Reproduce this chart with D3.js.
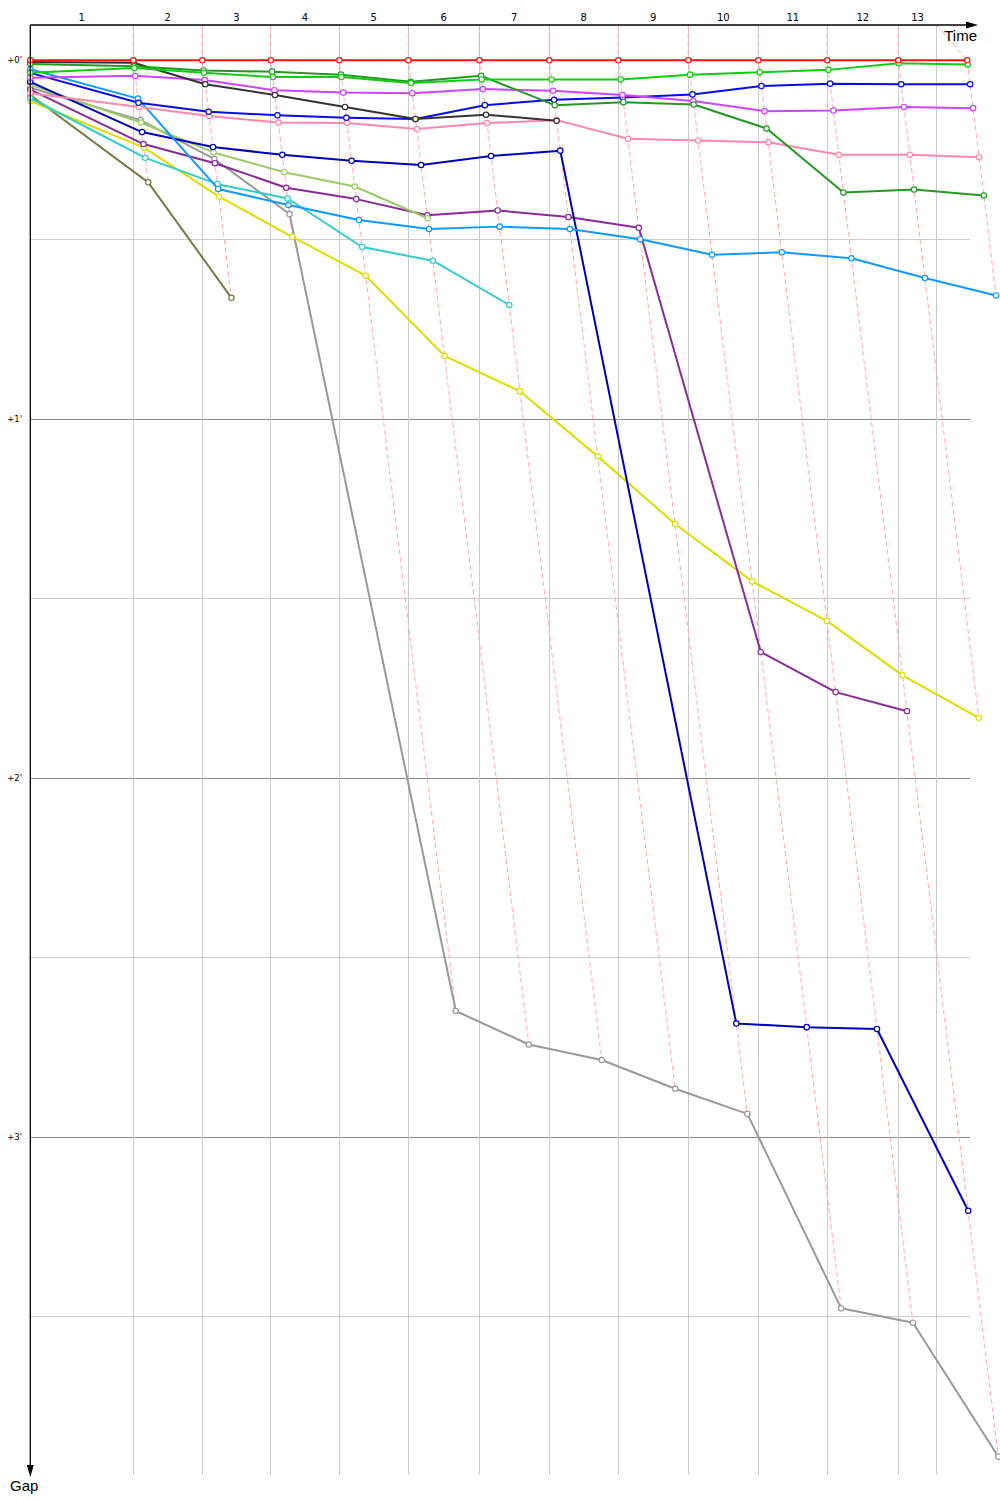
<!DOCTYPE html>
<html><head><meta charset="utf-8">
<script src="https://cdn.jsdelivr.net/npm/d3@7"></script>
<style>body{margin:0;background:#fff}svg{display:block}</style>
</head><body><svg id="c" width="1000" height="1500"></svg>
<script>
// ---- data ----
const lapNumbers = [1,2,3,4,5,6,7,8,9,10,11,12,13];
// leader's elapsed time (s) at end of each lap (index 0 = start)
const leaderTimes = [0, 140.5, 234.7, 328.0, 421.6, 515.7, 612.6, 708.0, 802.2, 897.7, 993.2, 1087.3, 1184.2, 1278.3];
const timeAxisEnd = 1237;           // end of time axis grid (s)
const gapTicks = [0, 30, 60, 90, 120, 150, 180, 210];
const gapLabels = ["+0'", "+1'", "+2'", "+3'"];

// gaps to leader (s), per completed lap, index 0 = start
const gapsRed        = [0,0,0,0,0,0,0,0,0,0,0,0,0,0];
const gapsGreen      = [2.1, 1.3, 2.1, 2.8, 2.8, 3.8, 3.2, 3.2, 3.2, 2.4, 2.0, 1.6, 0.5, 0.7];
const gapsDarkGreen  = [0.6, 1.0, 1.7, 1.9, 2.4, 3.6, 2.6, 7.5, 7.0, 7.4, 11.4, 22.1, 21.6, 22.6];
const gapsBlack      = [0.3, 0.4, 4.0, 5.8, 7.8, 9.8, 9.1, 10.1];
const gapsViolet     = [2.9, 2.6, 3.3, 5.0, 5.4, 5.5, 4.8, 5.1, 5.8, 6.8, 8.5, 8.4, 7.8, 8.0];
const gapsBlue       = [2.1, 7.1, 8.6, 9.2, 9.6, 9.8, 7.5, 6.6, 6.2, 5.7, 4.3, 3.9, 4.0, 4.0];
const gapsPink       = [5.5, 7.8, 9.3, 10.4, 10.5, 11.5, 10.5, 10.0, 13.1, 13.4, 13.7, 15.8, 15.8, 16.2];
const gapsSkyBlue    = [1.5, 6.4, 21.5, 24.2, 26.7, 28.2, 27.8, 28.2, 29.9, 32.5, 32.1, 33.1, 36.4, 39.3];
const gapsNavy       = [3.6, 12.0, 14.5, 15.8, 16.8, 17.5, 16.0, 15.1, 161.0, 161.6, 161.9, 192.3];
const gapsLightGreen = [4.1, 10.4, 15.4, 18.7, 21.1, 26.4];
const gapsPurple     = [4.9, 14.0, 17.2, 21.3, 23.2, 25.9, 25.1, 26.2, 28.0, 98.9, 105.6, 108.8];
const gapsCyan       = [6.3, 16.3, 20.7, 23.1, 31.2, 33.5, 40.9];
const gapsYellow     = [6.8, 14.6, 22.8, 29.5, 36.0, 49.4, 55.3, 66.2, 77.5, 87.1, 93.7, 102.8, 109.9];
const gapsGray       = [4.6, 10.0, 16.5, 25.7, 158.9, 164.5, 167.1, 171.9, 176.1, 208.6, 211.0, 233.4];
const gapsOlive      = [5.8, 20.4, 39.7];

// drawing order: bottom first, leader last
const seriesGaps   = [gapsOlive, gapsGray, gapsYellow, gapsCyan, gapsPurple, gapsLightGreen, gapsNavy, gapsSkyBlue, gapsPink, gapsBlue, gapsViolet, gapsBlack, gapsDarkGreen, gapsGreen, gapsRed];
const seriesColors = ["#7a7a44", "#999999", "#dddd00", "#33cccc", "#8a2a9a", "#99cc66", "#0000bb", "#1199ff", "#ff88aa", "#0a0aee", "#cc44ff", "#333333", "#229922", "#11cc11", "#ff1111"];

// ---- layout ----
const svg = d3.select("#c");
const x = d3.scaleLinear().domain([0, 1323]).range([30.3, 1000]);
const y = d3.scaleLinear().domain([0, 240]).range([60.3, 1496.2]);
const topY = 25, bottomY = 1477, gridBottom = 1475, hGridEnd = x(1282);

const series = seriesGaps.map((g, i) => ({
  color: seriesColors[i],
  pts: g.map((v, k) => ({ lap: k, gap: v, t: k === 0 ? 0 : leaderTimes[k] + v }))
}));

// horizontal grid
svg.append("g").selectAll("line").data(gapTicks).join("line")
  .attr("x1", x(0)).attr("x2", hGridEnd)
  .attr("y1", d => y(d)).attr("y2", d => y(d))
  .attr("stroke", d => d % 60 === 0 ? "#888" : "#ccc").attr("stroke-width", 1)
  .attr("shape-rendering", "crispEdges");

// vertical grid
const gridTimes = leaderTimes.slice(1).map(t => Math.min(t, timeAxisEnd));
svg.append("g").selectAll("line").data(gridTimes).join("line")
  .attr("x1", d => x(d)).attr("x2", d => x(d))
  .attr("y1", topY).attr("y2", gridBottom)
  .attr("stroke", "#ccc").attr("stroke-width", 1)
  .attr("shape-rendering", "crispEdges");

// lap labels
const bounds = [0, ...gridTimes];
svg.append("g").selectAll("text").data(lapNumbers).join("text")
  .attr("x", (d, i) => (x(bounds[i]) + x(bounds[i + 1])) / 2)
  .attr("y", 21).attr("text-anchor", "middle")
  .attr("font-family", "DejaVu Sans, sans-serif").attr("font-size", 10)
  .text(d => d);

// gap labels
svg.append("g").selectAll("text").data(gapLabels).join("text")
  .attr("x", 22).attr("y", (d, i) => y(i * 60) + 3)
  .attr("text-anchor", "end")
  .attr("font-family", "DejaVu Sans, sans-serif").attr("font-size", 8.5)
  .text(d => d);

// lap connection dashed lines
const lapLine = d3.line().x(d => d[0]).y(d => d[1]);
const dashG = svg.append("g");
lapNumbers.forEach((lap, i) => {
  const pts = series.filter(s => s.pts.length > lap).map(s => s.pts[lap]).sort((a, b) => a.gap - b.gap);
  const coords = [[x(gridTimes[i]), topY], ...pts.map(p => [x(p.t), y(p.gap)])];
  dashG.append("path").attr("d", lapLine(coords))
    .attr("fill", "none").attr("stroke", "#ffaaaa").attr("stroke-width", 1)
    .attr("stroke-dasharray", "5,3");
});

// series
const ln = d3.line().x(d => x(d.t)).y(d => y(d.gap));
series.forEach(s => {
  const g = svg.append("g");
  g.append("path").attr("d", ln(s.pts)).attr("fill", "none")
    .attr("stroke", s.color).attr("stroke-width", 2).attr("stroke-linejoin", "round");
  g.selectAll("circle").data(s.pts).join("circle")
    .attr("cx", d => x(d.t)).attr("cy", d => y(d.gap)).attr("r", 2.7)
    .attr("fill", "#fff").attr("stroke", s.color).attr("stroke-width", 1.2);
});

// axes
const ax = svg.append("g");
ax.append("line").attr("x1", x(0)).attr("x2", 972).attr("y1", topY).attr("y2", topY)
  .attr("stroke", "#000").attr("stroke-width", 1.3);
ax.append("path").attr("d", `M978,${topY} L966,${topY - 3.5} L966,${topY + 3.5} Z`).attr("fill", "#000");
ax.append("line").attr("x1", x(0)).attr("x2", x(0)).attr("y1", topY).attr("y2", bottomY - 6)
  .attr("stroke", "#000").attr("stroke-width", 1.3);
ax.append("path").attr("d", `M${x(0)},${bottomY} L${x(0) - 3.5},${bottomY - 12} L${x(0) + 3.5},${bottomY - 12} Z`).attr("fill", "#000");
ax.append("text").attr("x", 977).attr("y", 41).attr("text-anchor", "end")
  .attr("font-family", "Liberation Sans, Arial, sans-serif").attr("font-size", 15).text("Time");
ax.append("text").attr("x", 10).attr("y", 1491)
  .attr("font-family", "Liberation Sans, Arial, sans-serif").attr("font-size", 15).text("Gap");
</script></body></html>
